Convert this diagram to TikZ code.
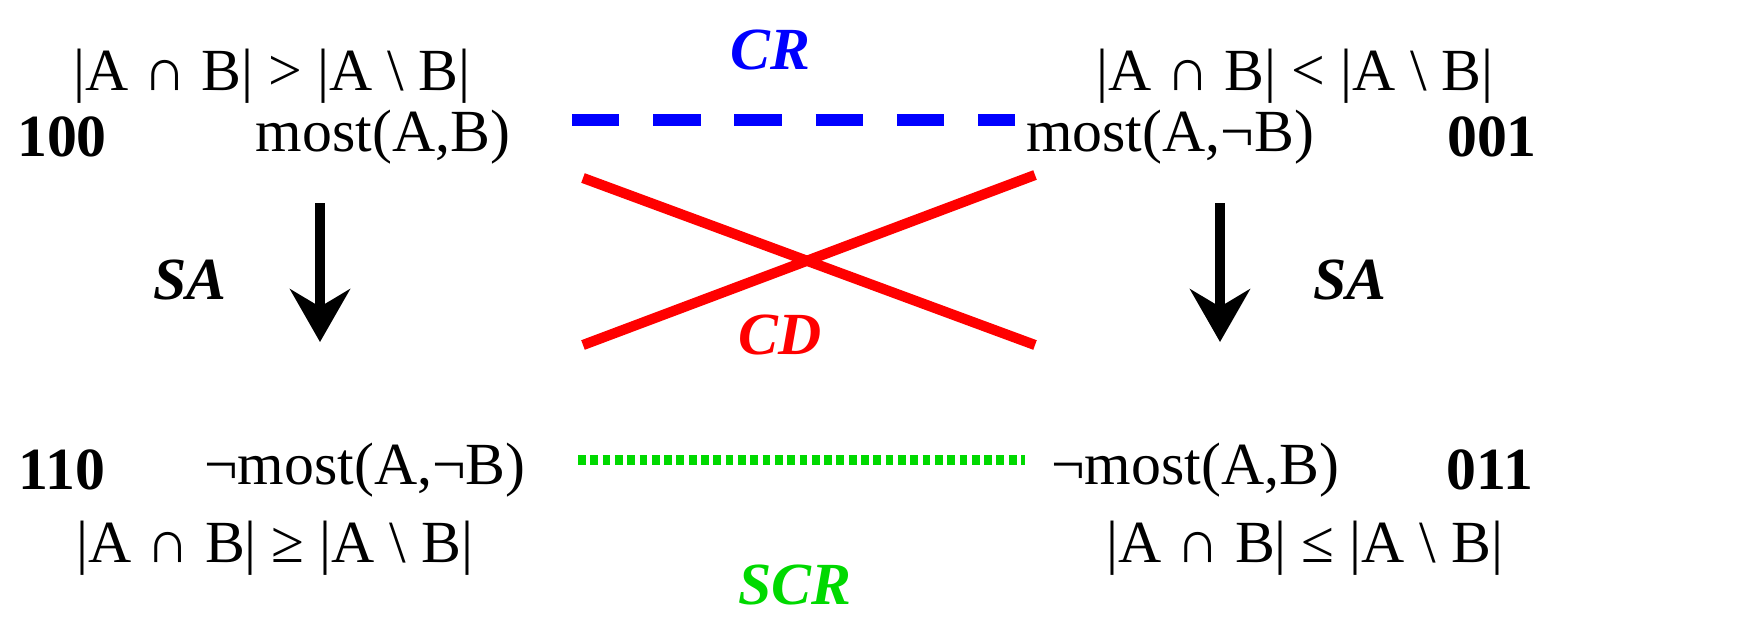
\documentclass[tikz,border=0pt]{standalone}
\usepackage{fontspec}
\setmainfont{Liberation Serif}
\usetikzlibrary{arrows.meta}
\begin{document}
\begin{tikzpicture}[x=0.01cm,y=-0.01cm,
  t/.style={font=\fontsize{17}{20}\selectfont,inner sep=0pt},
  b/.style={font=\fontsize{17}{20}\selectfont\bfseries,inner sep=0pt},
  lab/.style={font=\fontsize{17}{20}\selectfont\bfseries\itshape,inner sep=0pt},
  arr/.style={line width=3pt,-{Stealth[width=17pt,length=15pt,inset=5pt]}}]
\useasboundingbox (0,0) rectangle (1755,633);
\node[t] (c1) at (272,76) {|A ∩ B| > |A \textbackslash\ B|};
\node[b] (n100) at (62,137) {100};
\node[t] (m1) at (383,137) {most(A,B)};
\node[lab] (sa1) at (190,280) {SA};
\node[b] (n110) at (62,470) {110};
\node[t] (m2) at (365,470) {¬most(A,¬B)};
\node[t] (c2) at (275,548) {|A ∩ B| ≥ |A \textbackslash\ B|};
\node[t] (c3) at (1295,76) {|A ∩ B| < |A \textbackslash\ B|};
\node[t] (m3) at (1170,137) {most(A,¬B)};
\node[b] (n001) at (1492,137) {001};
\node[lab] (sa2) at (1350,280) {SA};
\node[t] (m4) at (1195,470) {¬most(A,B)};
\node[b] (n011) at (1490,470) {011};
\node[t] (c4) at (1305,548) {|A ∩ B| ≤ |A \textbackslash\ B|};
\node[lab,blue] (cr) at (770,50) {CR};
\node[lab,red] (cd) at (780,335) {CD};
\node[lab,green!85!black] (scr) at (795,585) {SCR};
\coordinate (a1) at (320,203); \coordinate (a2) at (320,342);
\coordinate (b1) at (1220,203); \coordinate (b2) at (1220,342);
\coordinate (p1) at (572,120); \coordinate (p2) at (1015,120);
\coordinate (q1) at (583,178); \coordinate (q2) at (1035,345);
\coordinate (r1) at (583,345); \coordinate (r2) at (1035,175);
\coordinate (s1) at (578,460); \coordinate (s2) at (1025,460);
\draw[arr] (a1) -- (a2);
\draw[arr] (b1) -- (b2);
\draw[blue,line width=3.3pt,dash pattern=on 13.5pt off 9.6pt] (p1) -- (p2);
\draw[red,line width=2.9pt] (q1) -- (q2);
\draw[red,line width=2.9pt] (r1) -- (r2);
\draw[green!85!black,line width=2.9pt,dash pattern=on 2.2pt off 1.3pt] (s1) -- (s2);
\end{tikzpicture}
\end{document}
